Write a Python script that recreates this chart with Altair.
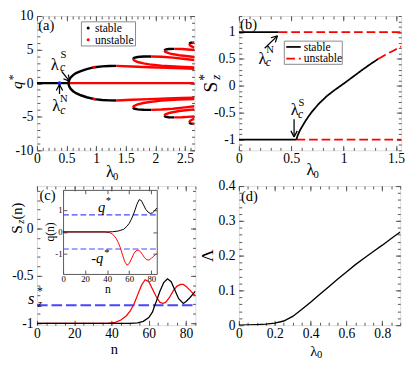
import math
import altair as alt
import pandas as pd

FONT = "Liberation Serif"
BLACK = "#000000"
RED = "#ff0000"
BLUE = "#4646ff"
FRAME = "#555555"

# ---------------- panel (a): q* vs lambda0 ----------------
a_zero_st_lam = [0.0, 0.54]
a_zero_st_q = [0.0, 0.0]
a_zero_un_lam = [0.54, 2.66]
a_zero_un_q = [0.0, 0.0]
a_pitch_lam = [0.53, 0.545, 0.57, 0.61, 0.66, 0.74, 0.84, 0.97, 1.1, 1.22, 1.34]
a_pitch_q = [0.0, 0.5, 0.85, 1.2, 1.5, 1.8, 2.1, 2.38, 2.5, 2.56, 2.58]
a_gap_lam = [0.94, 0.99]
a_gap_q = [2.33, 2.4]
a_main_un_lam = [1.34, 1.6, 1.9, 2.2, 2.45, 2.66]
a_main_un_q = [2.58, 2.48, 2.38, 2.28, 2.2, 2.15]
a_l1_st_lam = [1.62, 1.64, 1.7, 1.8, 1.93]
a_l1_st_q = [3.6, 3.78, 3.9, 3.97, 3.98]
a_l1_up_lam = [1.93, 2.1, 2.3, 2.5, 2.66]
a_l1_up_q = [3.98, 3.93, 3.8, 3.6, 3.45]
a_l1_lo_lam = [1.62, 1.64, 1.7, 1.8, 1.9, 2.1, 2.4, 2.66]
a_l1_lo_q = [3.6, 3.4, 3.15, 2.95, 2.8, 2.6, 2.45, 2.35]
a_l2_st_lam = [2.15, 2.17, 2.22, 2.32]
a_l2_st_q = [4.85, 5.0, 5.08, 5.1]
a_l2_up_lam = [2.32, 2.45, 2.55, 2.66]
a_l2_up_q = [5.1, 5.08, 5.02, 4.95]
a_l2_lo_lam = [2.15, 2.17, 2.25, 2.4, 2.55, 2.66]
a_l2_lo_q = [4.85, 4.65, 4.4, 4.15, 4.0, 3.9]
a_l3_st_lam = [2.57, 2.59, 2.63]
a_l3_st_q = [5.85, 6.0, 6.05]
a_l3_up_lam = [2.63, 2.66]
a_l3_up_q = [6.05, 6.05]
a_l3_lo_lam = [2.57, 2.59, 2.63, 2.66]
a_l3_lo_q = [5.85, 5.6, 5.4, 5.3]
a_crit_N = 0.38

# ---------------- panel (b): Sz* vs lambda0 ----------------
b_top_st_lam = [0.0, 0.38]
b_top_st_s = [1.0, 1.0]
b_top_un_lam = [0.38, 1.55]
b_top_un_s = [1.0, 1.0]
b_bot_st_lam = [0.0, 0.55]
b_bot_st_s = [-1.0, -1.0]
b_bot_un_lam = [0.55, 1.55]
b_bot_un_s = [-1.0, -1.0]
b_curve_st_lam = [0.55, 0.56, 0.58, 0.6, 0.64, 0.69, 0.76, 0.84, 0.92, 1.0, 1.09, 1.18, 1.26, 1.33]
b_curve_st_s = [-1.0, -0.93, -0.84, -0.77, -0.64, -0.5, -0.34, -0.19, -0.07, 0.04, 0.17, 0.3, 0.41, 0.5]
b_curve_un_lam = [1.33, 1.4, 1.47, 1.55]
b_curve_un_s = [0.5, 0.58, 0.65, 0.73]

# ---------------- panel (c): Sz(n) vs n, with inset q(n) ----------------
c_red_n = [0, 38, 42, 45, 48, 50, 52, 54, 56, 58, 60, 62, 64, 66, 67.5, 69, 71, 73, 75, 77, 78.5, 80, 82, 85]
c_red_s = [-1, -1, -0.99, -0.965, -0.92, -0.87, -0.8, -0.7, -0.6, -0.54, -0.56, -0.64, -0.72, -0.78, -0.79, -0.78,
           -0.73, -0.66, -0.61, -0.59, -0.59, -0.61, -0.65, -0.71]
c_black_n = [0, 50, 54, 57, 60, 62, 63, 64, 66, 68, 70, 72, 74, 76, 78.5, 80, 82, 85]
c_black_s = [-1, -1, -0.995, -0.98, -0.94, -0.88, -0.82, -0.77, -0.66, -0.57, -0.53, -0.56, -0.65, -0.74, -0.79,
             -0.77, -0.73, -0.66]
c_sz_star = -0.81
c_n_range = [0, 85]
in_black_n = [0, 40, 45, 50, 55, 58, 60, 62, 63.5, 65, 67, 69, 71, 73, 75, 77, 79, 81, 83, 85]
in_black_q = [0, 0, 0.01, 0.04, 0.12, 0.26, 0.39, 0.58, 0.75, 0.95, 1.25, 1.46, 1.42, 1.22, 1.02, 0.9, 0.84, 0.86, 0.95, 1.08]
in_red_n = [0, 38, 42, 45, 48, 50, 52, 54, 56, 58, 60, 62, 64, 66, 68, 70, 72, 74, 76, 78, 80, 82, 85]
in_red_q = [0, 0, -0.03, -0.1, -0.28, -0.47, -0.72, -1.05, -1.35, -1.5, -1.43, -1.22, -1.0, -0.86, -0.82, -0.88,
            -1.02, -1.17, -1.26, -1.27, -1.2, -1.1, -0.98]
in_q_star = 0.77

# ---------------- panel (d): Lambda vs lambda0 ----------------
d_lam = [0.0, 0.05, 0.1, 0.15, 0.2, 0.25, 0.3, 0.35, 0.4, 0.45, 0.5, 0.55, 0.6, 0.65, 0.7, 0.75, 0.8, 0.85, 0.9]
d_val = [0.0, 0.0005, 0.0015, 0.003, 0.006, 0.012, 0.025, 0.045, 0.066, 0.088, 0.11, 0.132, 0.153, 0.174, 0.193,
         0.212, 0.23, 0.249, 0.268]

# ---------------- geometry ----------------
WA, HA, WB, HB = 163, 139, 168, 139
WC, HC, WD, HD = 164, 144, 167, 144
A_X, A_Y = [0, 2.66], [-10, 10]
B_X, B_Y = [0, 1.55], [-1.2, 1.3]
C_X, C_Y = [0, 85], [-1.02, 0.45]
D_X, D_Y = [0, 0.9], [0, 0.4]
IN_X, IN_Y = [0, 85], [-1.9, 1.9]
IN_L, IN_R, IN_T, IN_B = 27, 124, 4, 91
LABEL_EXPR = "'' + datum.value"


def sc(dom, rng=None):
    if rng is None:
        return alt.Scale(domain=dom, nice=False, zero=False)
    return alt.Scale(domain=dom, range=rng, nice=False, zero=False)


def rng_vals(a, b, step):
    n = int(round((b - a) / step))
    return [round(a + i * step, 6) for i in range(n + 1)]


def tick_axis(orient, values, size, labels, pos_off=0, fs=14, pad=3):
    d = dict(orient=orient, values=values, tickSize=size, offset=-(size + pos_off), domain=False,
             labels=labels, grid=False, tickColor=FRAME, tickWidth=1, title=None, labelFlush=False,
             minExtent=0)
    if labels:
        d.update(labelExpr=LABEL_EXPR, labelFont=FONT, labelFontSize=fs, labelPadding=pad, labelColor="black",
                 labelOverlap=False)
    return alt.Axis(**d)


def frame_layers(df, xs, ys, xmaj, xmin, ymaj, ymin, fs=14, xpad=2, ypad=4):
    ch = alt.Chart(df).mark_point(opacity=0)
    out = []
    specs = [
        (tick_axis("bottom", xmaj, 5, True, fs=fs, pad=xpad), tick_axis("left", ymaj, 5, True, fs=fs, pad=ypad)),
        (tick_axis("bottom", xmin, 3, False), tick_axis("left", ymin, 3, False)),
        (tick_axis("top", xmaj, 5, False), tick_axis("right", ymaj, 5, False)),
        (tick_axis("top", xmin, 3, False), tick_axis("right", ymin, 3, False)),
    ]
    for ax_x, ax_y in specs:
        out.append(ch.encode(x=alt.X("x:Q", scale=xs, axis=ax_x), y=alt.Y("y:Q", scale=ys, axis=ax_y)))
    return out


def txt(text, x, y, size, dx=0, dy=0, angle=0, align="center", color=BLACK, baseline="middle", italic=False):
    df = pd.DataFrame({"t": [text]})
    mk = dict(font=FONT, fontSize=size, dx=dx, dy=dy, align=align, baseline=baseline, color=color)
    if angle:
        mk["angle"] = angle
    if italic:
        mk["fontStyle"] = "italic"
    return alt.Chart(df).mark_text(**mk).encode(x=x, y=y, text="t:N")


def data_txt(text, xv, yv, xs, ys, size, **kw):
    df = pd.DataFrame({"t": [text], "x": [xv], "y": [yv]})
    mk = dict(font=FONT, fontSize=size, align="center", baseline="middle", color=BLACK)
    mk.update(kw)
    return alt.Chart(df).mark_text(**mk).encode(
        x=alt.X("x:Q", scale=xs, axis=None), y=alt.Y("y:Q", scale=ys, axis=None), text="t:N")


def lam_c(xv, yv, sup, xs, ys, sdx, sdy, cdx, cdy):
    return [data_txt("λ", xv, yv, xs, ys, 17),
            data_txt(sup, xv, yv, xs, ys, 11, dx=sdx, dy=sdy),
            data_txt("c", xv, yv, xs, ys, 12, dx=cdx, dy=cdy, fontStyle="italic")]


def arrow(x0, y0, x1, y1, xs, ys, kx, ky, L=7.0, ang=28):
    px, py = (x1 - x0) * kx, -(y1 - y0) * ky
    n = math.hypot(px, py)
    ux, uy = px / n, py / n
    rows = [dict(x=x0, y=y0, x2=x1, y2=y1)]
    for s in (1, -1):
        a = math.radians(ang * s)
        wx = ux * math.cos(a) - uy * math.sin(a)
        wy = ux * math.sin(a) + uy * math.cos(a)
        rows.append(dict(x=x1, y=y1, x2=x1 - L * wx / kx, y2=y1 + L * wy / ky))
    df = pd.DataFrame(rows)
    return alt.Chart(df).mark_rule(color=BLACK, strokeWidth=1.3).encode(
        x=alt.X("x:Q", scale=xs, axis=None), y=alt.Y("y:Q", scale=ys, axis=None), x2="x2:Q", y2="y2:Q")


def seg_df(segs):
    rows = []
    for name, xs_, ys_, stab, mirror in segs:
        signs = [1, -1] if mirror else [1]
        for sg in signs:
            for i, (xv, yv) in enumerate(zip(xs_, ys_)):
                rows.append(dict(x=xv, y=sg * yv, seg=f"{name}{sg}", stab=stab, i=i))
    return pd.DataFrame(rows)


def xtitle(xc, ybelow, H, sub="0", main="λ", size=17, subdy=5):
    out = [txt(main, alt.value(xc), alt.value(H + ybelow), size)]
    if sub:
        out.append(txt(sub, alt.value(xc + 6), alt.value(H + ybelow), 11, dy=subdy))
    return out


# ================= panel (a) =================
xsA, ysA = sc(A_X), sc(A_Y)
kxA, kyA = WA / (A_X[1] - A_X[0]), HA / (A_Y[1] - A_Y[0])
dfa = seg_df([
    ("z_st", a_zero_st_lam, a_zero_st_q, "stable", False),
    ("z_un", a_zero_un_lam, a_zero_un_q, "unstable", False),
    ("p_st", a_pitch_lam, a_pitch_q, "stable", True),
    ("p_gap", a_gap_lam, a_gap_q, "unstable", True),
    ("m_un", a_main_un_lam, a_main_un_q, "unstable", True),
    ("l1_st", a_l1_st_lam, a_l1_st_q, "stable", True),
    ("l1_up", a_l1_up_lam, a_l1_up_q, "unstable", True),
    ("l1_lo", a_l1_lo_lam, a_l1_lo_q, "unstable", True),
    ("l2_st", a_l2_st_lam, a_l2_st_q, "stable", True),
    ("l2_up", a_l2_up_lam, a_l2_up_q, "unstable", True),
    ("l2_lo", a_l2_lo_lam, a_l2_lo_q, "unstable", True),
    ("l3_st", a_l3_st_lam, a_l3_st_q, "stable", True),
    ("l3_up", a_l3_up_lam, a_l3_up_q, "unstable", True),
    ("l3_lo", a_l3_lo_lam, a_l3_lo_q, "unstable", True),
])
stab_color = alt.Color("stab:N", scale=alt.Scale(domain=["stable", "unstable"], range=[BLACK, RED]), legend=None)
layA = [
    alt.Chart(dfa).mark_line(strokeWidth=2.5, clip=True).encode(
        x=alt.X("x:Q", scale=xsA, axis=None), y=alt.Y("y:Q", scale=ysA, axis=None),
        color=stab_color, detail="seg:N", order="i:Q"),
    alt.Chart(pd.DataFrame({"x": [a_crit_N], "y": [0.0]})).mark_point(
        filled=True, size=14, color="#2020ff", opacity=1).encode(
        x=alt.X("x:Q", scale=xsA, axis=None), y=alt.Y("y:Q", scale=ysA, axis=None)),
    data_txt("(a)", 0.155, 8.7, xsA, ysA, 15),
]
layA += lam_c(0.30, 2.7, "S", xsA, ysA, 9, -10, 8, 2)
layA.append(arrow(0.417, 1.74, 0.552, 0.27, xsA, ysA, kxA, kyA))
layA += lam_c(0.324, -3.5, "N", xsA, ysA, 8, -8, 7, 4)
layA.append(arrow(0.38, -1.6, 0.38, -0.2, xsA, ysA, kxA, kyA))
one = pd.DataFrame({"t": [""]})
layA += [
    alt.Chart(one).mark_rect(fill="white", stroke="#888888", strokeWidth=1).encode(
        x=alt.value(46), x2=alt.value(102), y=alt.value(6), y2=alt.value(31)),
    alt.Chart(one).mark_point(filled=True, size=10, color=BLACK, opacity=1).encode(x=alt.value(53), y=alt.value(12.5)),
    alt.Chart(one).mark_point(filled=True, size=10, color=RED, opacity=1).encode(x=alt.value(53), y=alt.value(24.5)),
    txt("stable", alt.value(60), alt.value(12.5), 12, align="left"),
    txt("unstable", alt.value(60), alt.value(24.5), 12, align="left"),
]
layA += xtitle(WA / 2 - 6, 23, HA)
layA += [txt("q", alt.value(-20), alt.value(HA / 2 + 2), 16, angle=270, italic=True),
         txt("*", alt.value(-20), alt.value(HA / 2 + 2), 12, angle=270, dx=8, dy=-5)]
layA += frame_layers(dfa, xsA, ysA, rng_vals(0, 2.5, 0.5), rng_vals(0, 2.6, 0.1),
                     rng_vals(-10, 10, 5), rng_vals(-10, 10, 1))
panelA = alt.layer(*layA).resolve_axis(x="independent", y="independent").properties(width=WA, height=HA)

# ================= panel (b) =================
xsB, ysB = sc(B_X), sc(B_Y)
kxB, kyB = WB / (B_X[1] - B_X[0]), HB / (B_Y[1] - B_Y[0])
dfb = seg_df([
    ("t_st", b_top_st_lam, b_top_st_s, "stable", False),
    ("t_un", b_top_un_lam, b_top_un_s, "unstable", False),
    ("b_st", b_bot_st_lam, b_bot_st_s, "stable", False),
    ("b_un", b_bot_un_lam, b_bot_un_s, "unstable", False),
    ("c_st", b_curve_st_lam, b_curve_st_s, "stable", False),
    ("c_un", b_curve_un_lam, b_curve_un_s, "unstable", False),
])
stab_dash = alt.StrokeDash("stab:N", scale=alt.Scale(domain=["stable", "unstable"], range=[[1, 0], [9, 4]]),
                           legend=None)
layB = [
    alt.Chart(dfb).mark_line(strokeWidth=1.8, clip=True).encode(
        x=alt.X("x:Q", scale=xsB, axis=None), y=alt.Y("y:Q", scale=ysB, axis=None),
        color=stab_color, strokeDash=stab_dash, detail="seg:N", order="i:Q"),
    data_txt("(b)", 0.092, 1.145, xsB, ysB, 15),
]
layB += lam_c(0.225, 0.497, "N", xsB, ysB, 8, -9, 6, 3)
layB.append(arrow(0.246, 0.70, 0.368, 0.93, xsB, ysB, kxB, kyB))
layB += lam_c(0.534, -0.455, "S", xsB, ysB, 7, -7, 6, 4)
layB.append(arrow(0.527, -0.62, 0.527, -0.95, xsB, ysB, kxB, kyB))
layB += [
    alt.Chart(one).mark_rect(fill="white", stroke="#888888", strokeWidth=1).encode(
        x=alt.value(47), x2=alt.value(107), y=alt.value(26), y2=alt.value(50)),
    alt.Chart(one).mark_rule(color=BLACK, strokeWidth=1.8).encode(
        x=alt.value(49), x2=alt.value(64), y=alt.value(32)),
    alt.Chart(one).mark_rule(color=RED, strokeWidth=1.8, strokeDash=[9, 4]).encode(
        x=alt.value(49), x2=alt.value(64), y=alt.value(44)),
    txt("stable", alt.value(67), alt.value(32), 12, align="left"),
    txt("unstable", alt.value(67), alt.value(44), 12, align="left"),
]
layB += xtitle(WB / 2 - 10, 21, HB)
layB += [txt("S", alt.value(-29), alt.value(HB / 2 + 4), 20, angle=270),
         txt("z", alt.value(-29), alt.value(HB / 2 + 4), 13, angle=270, dx=10, dy=5, italic=True),
         txt("*", alt.value(-29), alt.value(HB / 2 + 4), 14, angle=270, dx=10, dy=-6)]
layB += frame_layers(dfb, xsB, ysB, rng_vals(0, 1.5, 0.5), rng_vals(0, 1.5, 0.1),
                     rng_vals(-1, 1, 0.5), rng_vals(-1.2, 1.3, 0.1))
panelB = alt.layer(*layB).resolve_axis(x="independent", y="independent").properties(width=WB, height=HB)

# ================= panel (c) =================
xsC, ysC = sc(C_X), sc(C_Y)
dfc = pd.concat([
    pd.DataFrame({"x": c_red_n, "y": c_red_s, "seg": "red", "i": range(len(c_red_n))}),
    pd.DataFrame({"x": c_black_n, "y": c_black_s, "seg": "black", "i": range(len(c_black_n))}),
])
df_sz = pd.DataFrame({"x": c_n_range, "y": [c_sz_star, c_sz_star]})
curve_color = alt.Color("seg:N", scale=alt.Scale(domain=["black", "red"], range=[BLACK, RED]), legend=None)
layC = [
    alt.Chart(df_sz).mark_line(color=BLUE, strokeWidth=2, strokeDash=[11, 4], clip=True).encode(
        x=alt.X("x:Q", scale=xsC, axis=None), y=alt.Y("y:Q", scale=ysC, axis=None)),
    alt.Chart(dfc).mark_line(strokeWidth=1.3, clip=True).encode(
        x=alt.X("x:Q", scale=xsC, axis=None), y=alt.Y("y:Q", scale=ysC, axis=None),
        color=curve_color, detail="seg:N", order="i:Q"),
    data_txt("(c)", 5.6, 0.35, xsC, ysC, 15),
    txt("s", alt.value(-6), alt.value(117), 17, italic=True),
    txt("*", alt.value(3), alt.value(109), 12),
    txt("z", alt.value(3), alt.value(122), 11, italic=True),
]
layC += xtitle(WC / 2 - 2, 25, HC, sub="", main="n", size=15)
layC += [txt("S", alt.value(-20), alt.value(45), 16, angle=270),
         txt("z", alt.value(-20), alt.value(45), 11, angle=270, dx=8, dy=4, italic=True),
         txt("(n)", alt.value(-20), alt.value(45), 15, angle=270, dx=19, dy=0)]
layC += frame_layers(dfc, xsC, ysC, rng_vals(0, 80, 20), rng_vals(0, 85, 5),
                     rng_vals(-1, 0, 0.5), rng_vals(-1, 0.4, 0.1))
mainC = alt.layer(*layC).resolve_axis(x="independent", y="independent")

xsI, ysI = sc(IN_X, [IN_L, IN_R]), sc(IN_Y, [IN_B, IN_T])
dfi = pd.concat([
    pd.DataFrame({"x": in_red_n, "y": in_red_q, "seg": "red", "i": range(len(in_red_n))}),
    pd.DataFrame({"x": in_black_n, "y": in_black_q, "seg": "black", "i": range(len(in_black_n))}),
])
df_qs = pd.DataFrame({"x": c_n_range * 2, "y": [in_q_star, in_q_star, -in_q_star, -in_q_star],
                      "seg": ["p", "p", "m", "m"]})


def iax(orient, values, size, labels, fs=9, pad=1, frame=False):
    pos = {"left": IN_L, "right": WC - IN_R, "bottom": HC - IN_B, "top": IN_T}[orient]
    if frame:
        return alt.Axis(orient=orient, offset=-pos, domain=True, ticks=False, labels=False, grid=False,
                        title=None, domainColor=FRAME, domainWidth=1, minExtent=0)
    return tick_axis(orient, values, size, labels, pos_off=pos, fs=fs, pad=pad)


chI = alt.Chart(dfi).mark_point(opacity=0)
layI = [
    alt.Chart(df_qs).mark_line(color=BLUE, strokeWidth=1.2, strokeDash=[6, 3]).encode(
        x=alt.X("x:Q", scale=xsI, axis=None), y=alt.Y("y:Q", scale=ysI, axis=None), detail="seg:N"),
    alt.Chart(dfi).mark_line(strokeWidth=1.0).encode(
        x=alt.X("x:Q", scale=xsI, axis=None), y=alt.Y("y:Q", scale=ysI, axis=None),
        color=curve_color, detail="seg:N", order="i:Q"),
    data_txt("q", 35, 1.12, xsI, ysI, 15, fontStyle="italic"),
    data_txt("*", 35, 1.12, xsI, ysI, 11, dx=7, dy=-6),
    data_txt("-q", 31, -1.2, xsI, ysI, 15, fontStyle="italic"),
    data_txt("*", 31, -1.2, xsI, ysI, 11, dx=10, dy=-6),
    chI.encode(x=alt.X("x:Q", scale=xsI, axis=iax("bottom", rng_vals(0, 80, 20), 4, True)),
               y=alt.Y("y:Q", scale=ysI, axis=iax("left", [-1, 0, 1], 4, True))),
    chI.encode(x=alt.X("x:Q", scale=xsI, axis=iax("top", rng_vals(0, 80, 20), 4, False)),
               y=alt.Y("y:Q", scale=ysI, axis=iax("right", [-1, 0, 1], 4, False))),
    chI.encode(x=alt.X("x:Q", scale=xsI, axis=iax("bottom", None, 0, False, frame=True)),
               y=alt.Y("y:Q", scale=ysI, axis=iax("left", None, 0, False, frame=True))),
    chI.encode(x=alt.X("x:Q", scale=xsI, axis=iax("top", None, 0, False, frame=True)),
               y=alt.Y("y:Q", scale=ysI, axis=iax("right", None, 0, False, frame=True))),
    txt("n", alt.value((IN_L + IN_R) / 2 - 2), alt.value(IN_B + 16), 12),
    txt("q(n)", alt.value(IN_L - 13), alt.value((IN_T + IN_B) / 2), 12, angle=270),
]
insetC = alt.layer(*layI).resolve_axis(x="independent", y="independent")
panelC = alt.layer(mainC, insetC).resolve_scale(x="independent", y="independent").properties(width=WC, height=HC)

# ================= panel (d) =================
xsD, ysD = sc(D_X), sc(D_Y)
dfd = pd.DataFrame({"x": d_lam, "y": d_val})
layD = [
    alt.Chart(dfd).mark_line(color=BLACK, strokeWidth=1.4, clip=True).encode(
        x=alt.X("x:Q", scale=xsD, axis=None), y=alt.Y("y:Q", scale=ysD, axis=None)),
    data_txt("(d)", 0.059, 0.37, xsD, ysD, 15),
]
layD += xtitle(WD / 2 - 6, 27, HD, size=15, subdy=4)
layD += [txt("Λ", alt.value(-32), alt.value(HD / 2), 18, angle=270)]
layD += frame_layers(dfd, xsD, ysD, rng_vals(0, 0.8, 0.2), rng_vals(0, 0.9, 0.05),
                     rng_vals(0, 0.4, 0.1), rng_vals(0, 0.4, 0.02))
panelD = alt.layer(*layD).resolve_axis(x="independent", y="independent").properties(width=WD, height=HD)

chart = alt.concat(panelA, panelB, panelC, panelD, columns=2, spacing={"row": 37, "column": 45},
                   bounds="flush").properties(
    padding={"left": -2, "top": -6, "right": 2, "bottom": 0}
).configure_view(stroke=FRAME, strokeWidth=1).configure(background="white")

chart.save("out.html", embed_options={"renderer": "svg", "actions": False})
